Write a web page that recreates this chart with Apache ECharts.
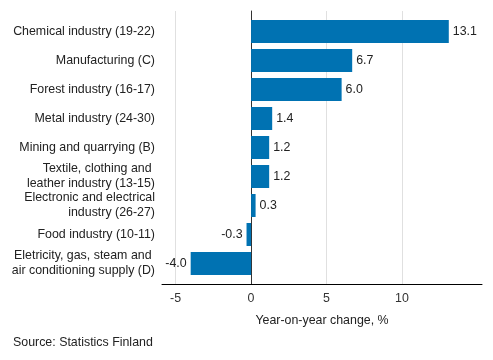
<!DOCTYPE html>
<html>
<head>
<meta charset="utf-8">
<script src="https://cdn.jsdelivr.net/npm/echarts@6/dist/echarts.min.js"></script>
<style>html,body{margin:0;padding:0;background:#fff}#c{width:493px;height:360px}</style>
</head>
<body>
<div id="c"></div>
<script>
const categories = [
  "Chemical industry (19-22)",
  "Manufacturing (C)",
  "Forest industry (16-17)",
  "Metal industry (24-30)",
  "Mining and quarrying (B)",
  "Textile, clothing and \nleather industry (13-15)",
  "Electronic and electrical\nindustry (26-27)",
  "Food industry (10-11)",
  "Eletricity, gas, steam and \nair conditioning supply (D)"
];
const values = [13.1, 6.7, 6.0, 1.4, 1.2, 1.2, 0.3, -0.3, -4.0];
const tickValues = [-5, 0, 5, 10];
const axisMin = -5.9;
const axisMax = 15.3;

const FONT = "'Liberation Sans', Arial, sans-serif";
const FS = 12.4;
const chart = echarts.init(document.getElementById('c'), null, {renderer: 'canvas'});
chart.setOption({
  animation: false,
  textStyle: {fontFamily: FONT},
  grid: [
    {left: 162, right: 11, top: 11, bottom: 76, containLabel: false},
    {left: 162, right: 11, top: 17, bottom: 82, containLabel: false}
  ],
  xAxis: [{
    gridIndex: 0,
    type: 'value',
    min: axisMin,
    max: axisMax,
    name: 'Year-on-year change, %',
    nameLocation: 'middle',
    nameGap: 31,
    nameTextStyle: {color: '#222', fontSize: FS, fontFamily: FONT},
    axisLine: {show: true, onZero: false, lineStyle: {color: '#000', width: 1}},
    axisTick: {show: false, customValues: tickValues},
    axisLabel: {customValues: tickValues, color: '#333', fontSize: FS, margin: 9, fontFamily: FONT},
    splitLine: {show: true, lineStyle: {color: '#e0e0e0', width: 1}}
  }, {
    gridIndex: 1,
    type: 'value',
    min: axisMin,
    max: axisMax,
    show: false,
    splitLine: {show: false}
  }],
  yAxis: [{
    gridIndex: 0,
    type: 'value',
    min: 0,
    max: 1,
    axisLine: {show: true, onZero: true, lineStyle: {color: '#333', width: 1}},
    axisTick: {show: false},
    axisLabel: {show: false},
    splitLine: {show: false}
  }, {
    gridIndex: 1,
    type: 'category',
    data: categories,
    inverse: true,
    axisLine: {show: false},
    axisTick: {show: false},
    axisLabel: {color: '#222', fontSize: FS, margin: 7, lineHeight: 15, fontFamily: FONT, align: 'right'},
    splitLine: {show: false}
  }],
  series: [{
    type: 'bar',
    xAxisIndex: 1,
    yAxisIndex: 1,
    barWidth: 23,
    itemStyle: {color: '#0072b2'},
    data: values.map(v => ({
      value: v,
      label: {position: v < 0 ? 'left' : 'right'}
    })),
    label: {
      show: true,
      color: '#222',
      fontSize: FS,
      distance: 4,
      fontFamily: FONT,
      formatter: p => p.value.toFixed(1)
    }
  }],
  graphic: [{
    type: 'text',
    left: 13,
    top: 337,
    style: {text: 'Source: Statistics Finland', fill: '#222', fontSize: FS, fontFamily: FONT}
  }]
});
</script>
</body>
</html>
